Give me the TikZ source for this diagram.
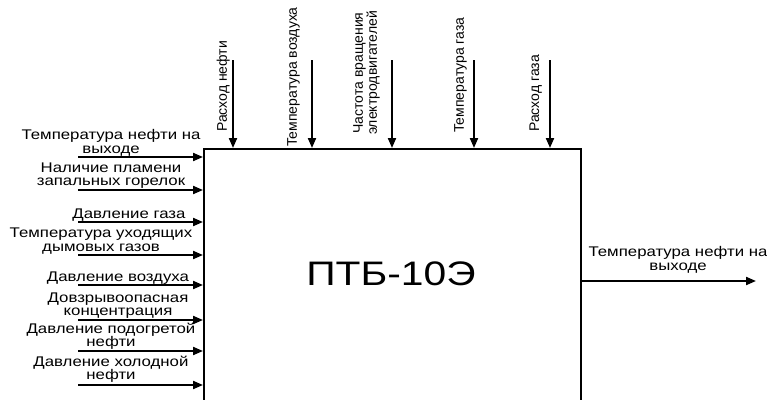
\documentclass[tikz,border=0pt]{standalone}
\usepackage{fontspec}
\setmainfont{Liberation Sans}
\newfontfamily\widefont[FakeStretch=1.2]{Liberation Sans}
\usetikzlibrary{positioning,arrows.meta}

\begin{document}
\begin{tikzpicture}[
    x=1pt,
    y=-1pt,
    block/.style={
        rectangle,
        draw,
        line width=2pt,
        anchor=north west,
        minimum width=377pt,
        minimum height=270pt,
        inner sep=0pt
    },
    bigtext/.style={
        inner sep=0pt,
        font=\widefont\fontsize{34}{36}\selectfont
    },
    inlabel/.style={
        anchor=south,
        align=center,
        inner sep=0pt,
        font=\widefont\fontsize{14}{13.5}\selectfont
    },
    toplabel/.style={
        rotate=90,
        align=center,
        inner sep=0pt,
        font=\fontsize{14}{14}\selectfont
    },
    arrow/.style={-{Triangle[length=10pt,width=8pt]}, line width=2pt}
]
\useasboundingbox (0,0) rectangle (767,399);
\clip (0,0) rectangle (767,399);

\node[block] (ptb) at (203,148) {};
\node[bigtext] (name) at (391,274) {ПТБ-10Э};

% inputs on the left
\coordinate (in1) at (78,157);
\coordinate (in2) at (78,190);
\coordinate (in3) at (78,222);
\coordinate (in4) at (78,255);
\coordinate (in5) at (78,285);
\coordinate (in6) at (78,320);
\coordinate (in7) at (78,351);
\coordinate (in8) at (78,385);

\node[inlabel] (lab1) at (111,156) {Температура нефти на\\выходе};
\node[inlabel] (lab2) at (111,189) {Наличие пламени\\запальных горелок};
\node[inlabel] (lab3) at (129,221) {Давление газа};
\node[inlabel] (lab4) at (101,254) {Температура уходящих\\дымовых газов};
\node[inlabel] (lab5) at (118,285) {Давление воздуха};
\node[inlabel] (lab6) at (118,319) {Довзрывоопасная\\концентрация};
\node[inlabel] (lab7) at (111,350) {Давление подогретой\\нефти};
\node[inlabel] (lab8) at (111,383) {Давление холодной\\нефти};

\draw[arrow] (in1) -- (in1 -| ptb.west);
\draw[arrow] (in2) -- (in2 -| ptb.west);
\draw[arrow] (in3) -- (in3 -| ptb.west);
\draw[arrow] (in4) -- (in4 -| ptb.west);
\draw[arrow] (in5) -- (in5 -| ptb.west);
\draw[arrow] (in6) -- (in6 -| ptb.west);
\draw[arrow] (in7) -- (in7 -| ptb.west);
\draw[arrow] (in8) -- (in8 -| ptb.west);

% inputs from the top
\coordinate (top1) at (233,60);
\coordinate (top2) at (312,60);
\coordinate (top3) at (392,60);
\coordinate (top4) at (474,60);
\coordinate (top5) at (550,60);

\node[toplabel, anchor=south west] (tlab1) at (230,132) {Расход нефти};
\node[toplabel, anchor=south west] (tlab2) at (300,147) {Температура воздуха};
\node[toplabel, anchor=south] (tlab3) at (380,73) {Частота вращения\\электродвигателей};
\node[toplabel, anchor=south west] (tlab4) at (467,133) {Температура газа};
\node[toplabel, anchor=south west] (tlab5) at (542,132) {Расход газа};

\draw[arrow] (top1) -- (top1 |- ptb.north);
\draw[arrow] (top2) -- (top2 |- ptb.north);
\draw[arrow] (top3) -- (top3 |- ptb.north);
\draw[arrow] (top4) -- (top4 |- ptb.north);
\draw[arrow] (top5) -- (top5 |- ptb.north);

% output
\coordinate (out) at (756,281);
\node[inlabel] (olab) at (678,273) {Температура нефти на\\выходе};
\draw[arrow] (out -| ptb.east) -- (out);

\end{tikzpicture}
\end{document}
